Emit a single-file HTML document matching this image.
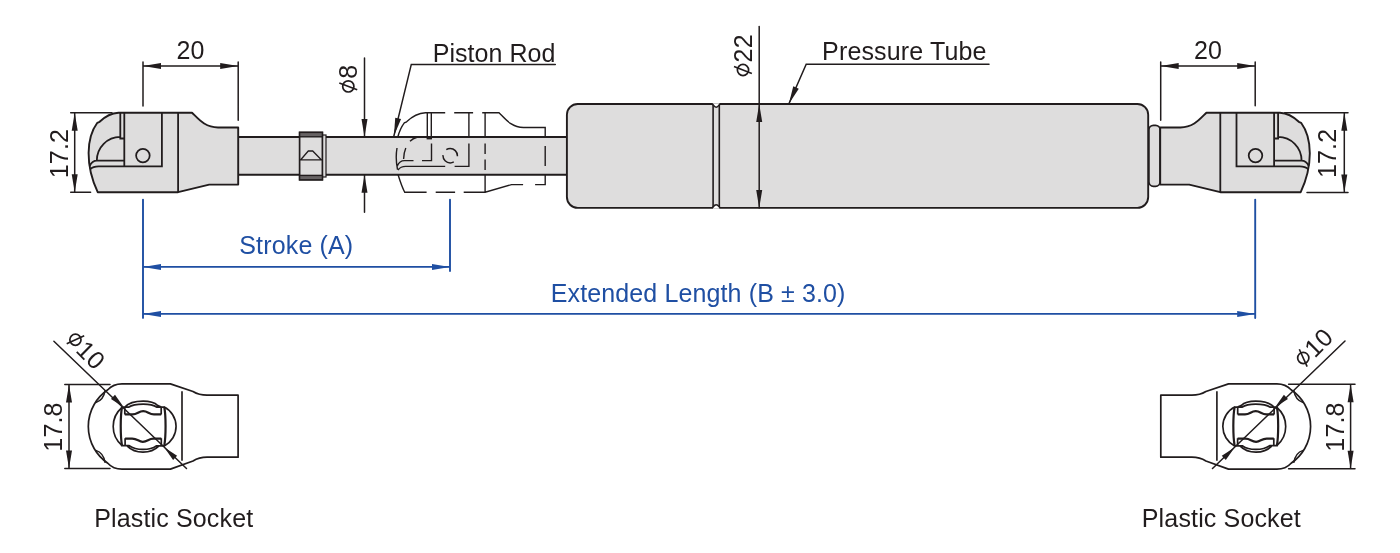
<!DOCTYPE html>
<html><head><meta charset="utf-8"><title>Gas Spring Drawing</title>
<style>html,body{margin:0;padding:0;background:#fff;width:1400px;height:553px;overflow:hidden}
svg{display:block;will-change:transform} text{font-family:"Liberation Sans", sans-serif}</style></head>
<body><svg width="1400" height="553" viewBox="0 0 1400 553" font-family="Liberation Sans, sans-serif" font-size="25" fill="#211c1d" letter-spacing="0.15"><defs><g id="fit"><path d="M118.5,112.7 L192,112.7 C198.5,119 205,127.5 218,127.5 L238.2,127.5 L238.2,184.6 L209.2,184.6 L178.1,192.2 L97.7,192.2 C92,180 88.5,167 88.6,153 C88.7,140 92,130 97.3,122.8 L99.6,121.8 C105,116.5 111,113 118.5,112.7 Z" fill="#dedddd" stroke="#211c1d" stroke-width="1.9" stroke-linejoin="round"/><path d="M120.3,112.7 V138.5 H124.3 M124.3,112.7 V166.6 M120.3,136.8 A23.5,23.8 0 0 0 96.8,160.6 H124.3 M89.6,166 C91,163 93.5,160.6 97,160.6 M90,169.4 C92,167.5 95,166.4 98.6,166.4 H161.9 V112.7 M178.1,112.7 V192.2" fill="none" stroke="#211c1d" stroke-width="1.8"/><circle cx="142.9" cy="155.6" r="6.8" fill="none" stroke="#211c1d" stroke-width="1.75"/></g><g id="sock"><path d="M170.4,383.9 H122 C115.5,383.9 110.5,386.8 107.8,389.8 A44.3,44.3 0 0 0 107.8,463.2 C110.5,466.2 115.5,469.1 122,469.1 H170.4 L193,461 Q199,457.2 207,457.2 L238.1,457.2 L238.1,395.2 L207,395.2 Q199,395.2 193,391.5 Z" fill="#fff" stroke="#211c1d" stroke-width="1.7" stroke-linejoin="round"/><path d="M182,391.3 V460.8 M122,407.5 A24.9,24.9 0 0 0 122,445.5 M163.8,406.8 A22,22 0 0 1 164.3,446 " fill="none" stroke="#211c1d" stroke-width="1.65"/><path d="M124.8,407.2 V414.5 M161.2,407.2 V414.5 M121.5,407.2 H128.5 C132,404.9 137.5,404.1 143.2,404.1 C149,404.1 153.5,404.9 157,407.2 H164.3 M124.6,407.4 C128.5,403 135.5,401.2 143.2,401.2 C150.5,401.2 155,403 157.8,405.6 L162,407.2 M125.1,438.2 V445.6 M161.3,438.2 V445.6 M121.1,445.6 H129.2 C133,448.4 137.5,449.4 143,449.4 C148.5,449.4 153,448.4 156.3,445.8 H165 M127.3,446.2 C131.5,450.5 137,452.2 143,452.2 C149,452.2 154.5,450.5 158.7,446.2 " fill="none" stroke="#211c1d" stroke-width="1.7" stroke-linejoin="round"/><path d="M124.8,414.4 H132.5 C137.5,414.4 138.5,411.1 143.2,411.1 C147.9,411.1 148.9,414.4 153.9,414.4 H161.2 M125.1,438.6 H132.2 C137.5,438.6 138.5,441.8 142.8,441.8 C147.5,441.8 148.5,438.6 153.4,438.6 H161.3 M122,407.2 C120.3,416 120.3,436 122,445.6 M164.3,407.2 C166,416 166,436 164.3,445.6 " fill="none" stroke="#211c1d" stroke-width="2.2" stroke-linejoin="round"/><path d="M95.8,402.6 Q103.6,400.2 105.2,390.2 M95.8,450.4 Q103.6,452.8 105.2,462.8" fill="none" stroke="#211c1d" stroke-width="1.5"/></g></defs><rect x="238.2" y="137" width="330" height="37.8" fill="#dedddd"/><path d="M238.2,137 H568 M238.2,174.8 H568" stroke="#211c1d" stroke-width="1.9"/><use href="#fit"/><path d="M397.8,137 C399.5,130.5 401.5,126.5 404.3,122.8 L406.6,121.8 C412,116.5 418,113 425.5,112.7 H445.2 M454.2,112.7 H473.1 M482.2,112.7 H499 C505,118.5 511,127.5 523.5,127.5 H545.2 V137 M427.3,112.7 V137.5 M431.3,112.7 V137.5 M468.9,112.7 V137 M485.1,112.7 V137 M398,174.5 C400,181 402,187 404.7,192.2 H426.6 M435.7,192.2 H455.1 M463.7,192.2 H485.1 L511.5,184.6 H523.1 M535.1,184.6 H545.2 V174.5 M485.1,174.5 V192.2 M397.3,166 C398.5,163 401,160.6 404.5,160.6 M398,170 C399.5,168 402,166.4 405.6,166.4 H445.2 M454.6,166.4 H468.9 V143.6 M404.5,160.6 H413.5 M422,160.6 H431.5 V143.6 M397,148 C395.8,155 396,162 397.5,169.5 M403.6,159 C403.8,154 404.5,151 405.8,148 M410,141.2 C412,139.2 414.5,137.8 417,137.2 M485.1,143.6 V154 M485.1,159.5 V170 M545.2,146 V166" fill="none" stroke="#211c1d" stroke-width="1.4"/><rect x="426.6" y="136.2" width="5.4" height="3.2" fill="#211c1d"/><circle cx="450.2" cy="155.7" r="7.2" fill="none" stroke="#211c1d" stroke-width="1.5" stroke-dasharray="0.5 7 15.6 6.5 15.6 0"/><rect x="322.4" y="135" width="3.6" height="42" fill="#dedddd" stroke="#211c1d" stroke-width="1.2"/><rect x="299.6" y="132.4" width="22.8" height="47.4" fill="#dedddd" stroke="#211c1d" stroke-width="1.7"/><rect x="299.6" y="132.4" width="22.8" height="4.4" fill="#666263" stroke="#211c1d" stroke-width="1.4"/><rect x="299.6" y="175.4" width="22.8" height="4.4" fill="#666263" stroke="#211c1d" stroke-width="1.4"/><path d="M300.7,159.7 L308.3,151 L312.7,151 L321.3,159.7 M299.6,159.9 H322.4" fill="none" stroke="#211c1d" stroke-width="1.3"/><rect x="566.9" y="104" width="581.3" height="103.9" rx="10.8" fill="#dedddd" stroke="#211c1d" stroke-width="1.9"/><path d="M712.6,104 C713.1,104.6 713.1,105.1 713.1,106.6 V205.3 C713.1,206.8 713.1,207.3 712.6,207.9 M719.8,104 C719.3,104.6 719.3,105.1 719.3,106.6 V205.3 C719.3,206.8 719.3,207.3 719.8,207.9" fill="none" stroke="#211c1d" stroke-width="1.6"/><path d="M712.3,103.2 C713.5,103.8 713.6,107.2 716.2,107.2 C718.8,107.2 718.9,103.8 720.1,103.2 Z M712.3,208.7 C713.5,208.1 713.6,204.7 716.2,204.7 C718.8,204.7 718.9,208.1 720.1,208.7 Z" fill="#fff" stroke="none"/><path d="M712.3,104 C713.5,104.2 713.6,107.2 716.2,107.2 C718.8,107.2 718.9,104.2 720.1,104 M712.3,207.9 C713.5,207.7 713.6,204.7 716.2,204.7 C718.8,204.7 718.9,207.7 720.1,207.9" fill="none" stroke="#211c1d" stroke-width="1.5"/><rect x="1148.9" y="125.4" width="11.2" height="60.9" rx="4.5" fill="#dedddd" stroke="#211c1d" stroke-width="1.7"/><use href="#fit" transform="matrix(-1,0,0,1,1398.4,0)"/><path d="M143,62 V106 M238.2,62 V120.2 M143,65.9 H238.2" stroke="#211c1d" stroke-width="1.5" fill="none" stroke-linecap="round"/><path d="M143.00,65.90 L161.00,62.90 L161.00,68.90 Z" fill="#211c1d"/><path d="M238.20,65.90 L220.20,68.90 L220.20,62.90 Z" fill="#211c1d"/><text x="190.6" y="58.7" text-anchor="middle">20</text><path d="M1160.7,62 V120.3 M1255.2,62 V105.8 M1160.7,65.9 H1255.2" stroke="#211c1d" stroke-width="1.5" fill="none" stroke-linecap="round"/><path d="M1160.70,65.90 L1178.70,62.90 L1178.70,68.90 Z" fill="#211c1d"/><path d="M1255.20,65.90 L1237.20,68.90 L1237.20,62.90 Z" fill="#211c1d"/><text x="1208" y="58.7" text-anchor="middle">20</text><path d="M70.7,112.7 H112 M70.7,192.2 H90.6 M74.7,112.7 V192.2" stroke="#211c1d" stroke-width="1.5" fill="none" stroke-linecap="round"/><path d="M74.70,112.70 L77.70,130.70 L71.70,130.70 Z" fill="#211c1d"/><path d="M74.70,192.20 L71.70,174.20 L77.70,174.20 Z" fill="#211c1d"/><text transform="translate(68,153.6) rotate(-90)" text-anchor="middle">17.2</text><path d="M1284.7,112.7 H1348 M1307,192.6 H1348 M1344.3,112.7 V192.6" stroke="#211c1d" stroke-width="1.5" fill="none" stroke-linecap="round"/><path d="M1344.30,112.70 L1347.30,130.70 L1341.30,130.70 Z" fill="#211c1d"/><path d="M1344.30,192.60 L1341.30,174.60 L1347.30,174.60 Z" fill="#211c1d"/><text transform="translate(1336,153.4) rotate(-90)" text-anchor="middle">17.2</text><path d="M364.5,58 V137 M364.5,212.3 V174.8" stroke="#211c1d" stroke-width="1.5" fill="none" stroke-linecap="round"/><path d="M364.50,137.00 L361.50,119.00 L367.50,119.00 Z" fill="#211c1d"/><path d="M364.50,174.80 L367.50,192.80 L361.50,192.80 Z" fill="#211c1d"/><g transform="translate(356.9,92.4) rotate(-90)"><circle cx="6" cy="-8.6" r="5.6" fill="none" stroke="#211c1d" stroke-width="1.7"/><path d="M2.6,0.3 L9.4,-17.6" stroke="#211c1d" stroke-width="1.6"/><text x="13.6" y="0">8</text></g><path d="M759.2,26.6 V207.9" stroke="#211c1d" stroke-width="1.5" fill="none" stroke-linecap="round"/><path d="M759.20,104.00 L762.20,122.00 L756.20,122.00 Z" fill="#211c1d"/><path d="M759.20,207.90 L756.20,189.90 L762.20,189.90 Z" fill="#211c1d"/><g transform="translate(751.6,76) rotate(-90)"><circle cx="6" cy="-8.6" r="5.6" fill="none" stroke="#211c1d" stroke-width="1.7"/><path d="M2.6,0.3 L9.4,-17.6" stroke="#211c1d" stroke-width="1.6"/><text x="13.6" y="0">22</text></g><text x="432.7" y="61.8" letter-spacing="0.05">Piston Rod</text><path d="M555.3,64.4 H411.3 L393.9,135.9" stroke="#211c1d" stroke-width="1.5" fill="none" stroke-linecap="round"/><path d="M393.90,135.90 L395.24,117.70 L401.07,119.12 Z" fill="#211c1d"/><text x="822.1" y="59.9">Pressure Tube</text><path d="M989,64.3 H806.2 L788.8,104" stroke="#211c1d" stroke-width="1.5" fill="none" stroke-linecap="round"/><path d="M788.80,104.00 L793.28,86.31 L798.77,88.72 Z" fill="#211c1d"/><path d="M143,199.6 V317.9 M450,199.6 V271 M143,266.9 H450 M143,313.9 H1255.2 M1255.2,199.6 V318" stroke="#1f4fa3" stroke-width="1.9" fill="none" stroke-linecap="round"/><path d="M143.00,266.90 L161.00,263.90 L161.00,269.90 Z" fill="#1f4fa3"/><path d="M450.00,266.90 L432.00,269.90 L432.00,263.90 Z" fill="#1f4fa3"/><path d="M143.00,313.90 L161.00,310.90 L161.00,316.90 Z" fill="#1f4fa3"/><path d="M1255.20,313.90 L1237.20,316.90 L1237.20,310.90 Z" fill="#1f4fa3"/><text x="239.3" y="254.4" fill="#1f4fa3">Stroke (A)</text><text x="550.8" y="301.7" fill="#1f4fa3" letter-spacing="0.12">Extended Length (B ± 3.0)</text><use href="#sock"/><use href="#sock" transform="matrix(-1,0,0,1,1398.9,0)"/><path d="M53.9,341.2 L186.5,468.5" stroke="#211c1d" stroke-width="1.5" fill="none" stroke-linecap="round"/><path d="M123.80,407.20 L110.97,398.90 L114.99,394.72 Z" fill="#211c1d"/><path d="M164.30,447.40 L177.13,455.70 L173.11,459.88 Z" fill="#211c1d"/><g transform="translate(65.1,341.6) rotate(45)"><circle cx="6" cy="-8.6" r="5.6" fill="none" stroke="#211c1d" stroke-width="1.7"/><path d="M2.6,0.3 L9.4,-17.6" stroke="#211c1d" stroke-width="1.6"/><text x="13.6" y="0">10</text></g><path d="M64.8,384.6 H110 M64.8,468.6 H110 M69,384.6 V468.6" stroke="#211c1d" stroke-width="1.5" fill="none" stroke-linecap="round"/><path d="M69.00,384.60 L72.00,402.60 L66.00,402.60 Z" fill="#211c1d"/><path d="M69.00,468.60 L66.00,450.60 L72.00,450.60 Z" fill="#211c1d"/><text transform="translate(62.1,427) rotate(-90)" text-anchor="middle">17.8</text><path d="M1345,341 L1212.5,468.5" stroke="#211c1d" stroke-width="1.5" fill="none" stroke-linecap="round"/><path d="M1275.10,407.20 L1283.91,394.72 L1287.93,398.90 Z" fill="#211c1d"/><path d="M1234.60,447.40 L1225.79,459.88 L1221.77,455.70 Z" fill="#211c1d"/><g transform="translate(1305.1,368.3) rotate(-45)"><circle cx="6" cy="-8.6" r="5.6" fill="none" stroke="#211c1d" stroke-width="1.7"/><path d="M2.6,0.3 L9.4,-17.6" stroke="#211c1d" stroke-width="1.6"/><text x="13.6" y="0">10</text></g><path d="M1288.6,384.2 H1355 M1288.6,468.7 H1355 M1350.6,384.2 V468.7" stroke="#211c1d" stroke-width="1.5" fill="none" stroke-linecap="round"/><path d="M1350.60,384.20 L1353.60,402.20 L1347.60,402.20 Z" fill="#211c1d"/><path d="M1350.60,468.70 L1347.60,450.70 L1353.60,450.70 Z" fill="#211c1d"/><text transform="translate(1343.7,427) rotate(-90)" text-anchor="middle">17.8</text><text x="94.2" y="526.8">Plastic Socket</text><text x="1141.8" y="526.8">Plastic Socket</text></svg></body></html>
